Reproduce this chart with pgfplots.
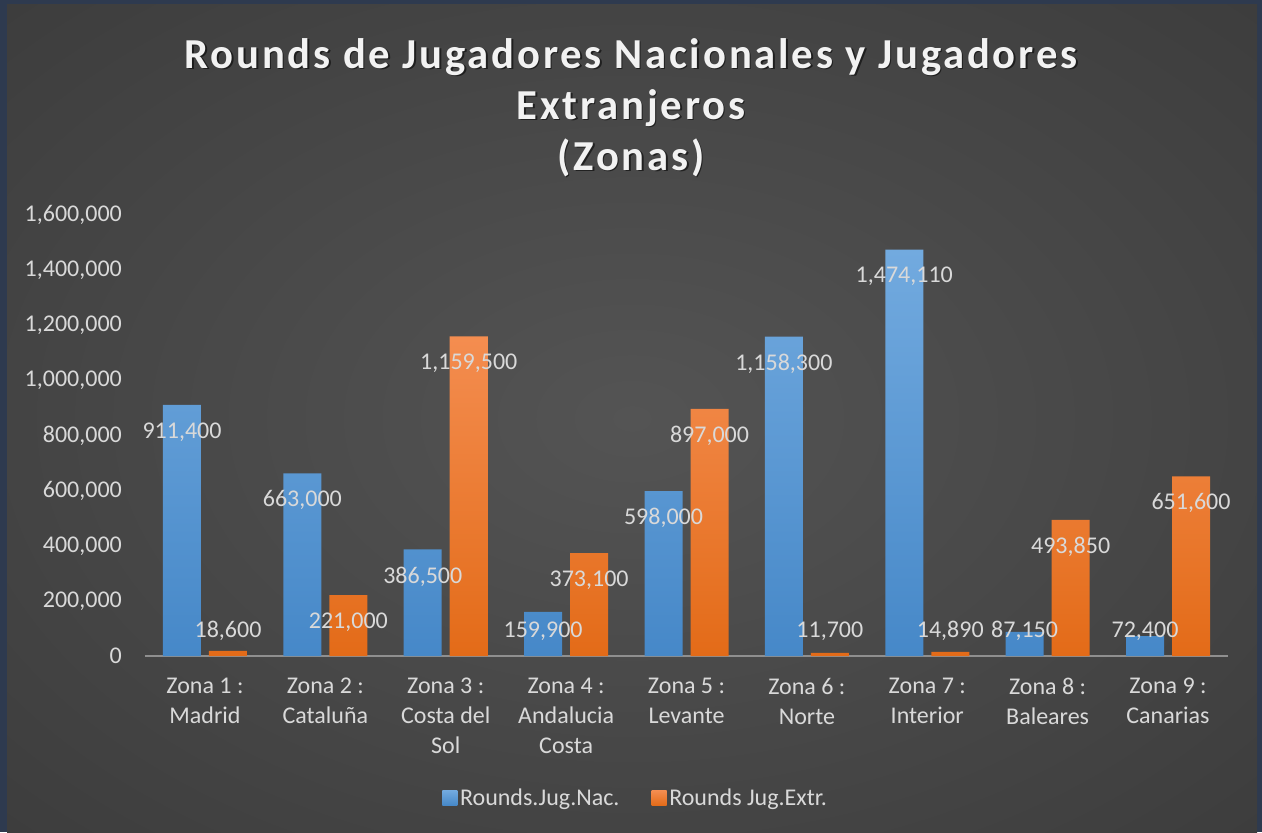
\documentclass[border=0pt]{standalone}
\usepackage{fontspec}
\setmainfont{Carlito}
\newfontfamily\titlefont[LetterSpace=6.6]{Carlito}
\usepackage{pgfplots}
\pgfplotsset{compat=1.18}
\usepackage{pgfplotstable}
\definecolor{frame}{HTML}{2E3A4F}
\definecolor{bgin}{HTML}{545454}
\definecolor{bgmid}{HTML}{474747}
\definecolor{bgout}{HTML}{252525}
\definecolor{blueTop}{HTML}{72AADF}
\definecolor{blueBot}{HTML}{4688C8}
\definecolor{oraTop}{HTML}{F48D50}
\definecolor{oraBot}{HTML}{E36B18}
\definecolor{labelgray}{HTML}{D9D9D9}
\definecolor{titlewhite}{HTML}{F2F2F2}
\definecolor{axisgray}{HTML}{8F8F8F}
\pgfdeclareradialshading{bgshade}{\pgfpoint{0bp}{0bp}}{color(0bp)=(bgin); color(20bp)=(bgmid); color(72bp)=(bgout)}

\pgfplotstableread{
x nac ext lyn lye
0 911400 18600 813400 91000
1 663000 221000 565000 123000
2 386500 1159500 288500 1061500
3 159900 373100 91000 275100
4 598000 897000 500000 799000
5 1158300 11700 1060300 91000
6 1474110 14890 1376110 91000
7 87150 493850 91000 395850
8 72400 651600 91000 553600
}\datatable

\begin{document}
\begin{tikzpicture}
\fill[frame] (0,0) rectangle (946.5pt,624pt);
\shade[shading=bgshade] (5.25pt,0pt) rectangle (942.75pt,620.25pt);
% title
\node[align=center, text=black, opacity=0.55, font=\titlefont\bfseries\fontsize{32}{38.25}\selectfont, anchor=north] at (474.4pt,597.7pt) {Rounds de Jugadores Nacionales y Jugadores\\Extranjeros\\(Zonas)};
\node[align=center, text=titlewhite, font=\titlefont\bfseries\fontsize{32}{38.25}\selectfont, anchor=north] at (473.25pt,598.8pt) {Rounds de Jugadores Nacionales y Jugadores\\Extranjeros\\(Zonas)};
\begin{axis}[
  at={(108.6pt,132pt)}, anchor=south west,
  scale only axis, width=812.55pt, height=330.75pt,
  xmin=-0.5, xmax=8.5, ymin=0, ymax=1600000,
  clip=false,
  xtick={0,...,8},
  xticklabels={{Zona 1 :\\Madrid},{Zona 2 :\\Cataluña},{Zona 3 :\\Costa del\\Sol},{Zona 4 :\\Andalucia\\Costa},{Zona 5 :\\Levante},{Zona 6 :\\Norte},{Zona 7 :\\Interior},{Zona 8 :\\Baleares},{Zona 9 :\\Canarias}},
  ytick={0,200000,...,1600000},
  scaled y ticks=false,
  major tick length=0pt,
  axis x line*=bottom, axis y line*=left,
  x axis line style={-, draw=axisgray, line width=1.5pt},
  y axis line style={draw=none},
  tick label style={font=\fontsize{18}{22.5}\selectfont, text=labelgray},
  xticklabel style={align=center, anchor=north, inner sep=0pt, yshift=-16.5pt},
  yticklabel style={anchor=east, inner sep=0pt, xshift=-17pt},
  legend style={at={(0.4534,-0.322)}, anchor=center, draw=none, fill=none,
    font=\fontsize{18}{22.5}\selectfont, text=labelgray, legend columns=2,
    /tikz/every even column/.append style={column sep=22pt}},
  /pgf/number format/.cd, fixed, 1000 sep={,}, assume math mode=true
]
\addplot[ybar, bar width=28.5pt, bar shift=-17.25pt, draw=none, top color=blueTop, bottom color=blueBot,
  legend image code/.code={\fill[top color=blueTop, bottom color=blueBot] (0pt,-5.6pt) rectangle (11.25pt,5.6pt);}]
  table[x=x, y=nac] {\datatable};
\addlegendentry{Rounds.Jug.Nac.}
\addplot[ybar, bar width=28.5pt, bar shift=17.25pt, draw=none, top color=oraTop, bottom color=oraBot,
  legend image code/.code={\fill[top color=oraTop, bottom color=oraBot] (0pt,-5.6pt) rectangle (11.25pt,5.6pt);}]
  table[x=x, y=ext] {\datatable};
\addlegendentry{Rounds Jug.Extr.}
\addplot[draw=none, mark=none, forget plot, nodes near coords, point meta=explicit,
  every node near coord/.append style={anchor=center, xshift=-17.25pt, font=\fontsize{18}{22.5}\selectfont, text=labelgray}]
  table[x=x, y=lyn, meta=nac] {\datatable};
\addplot[draw=none, mark=none, forget plot, nodes near coords, point meta=explicit,
  every node near coord/.append style={anchor=center, xshift=17.25pt, font=\fontsize{18}{22.5}\selectfont, text=labelgray}]
  table[x=x, y=lye, meta=ext] {\datatable};
\end{axis}
\end{tikzpicture}
\end{document}
